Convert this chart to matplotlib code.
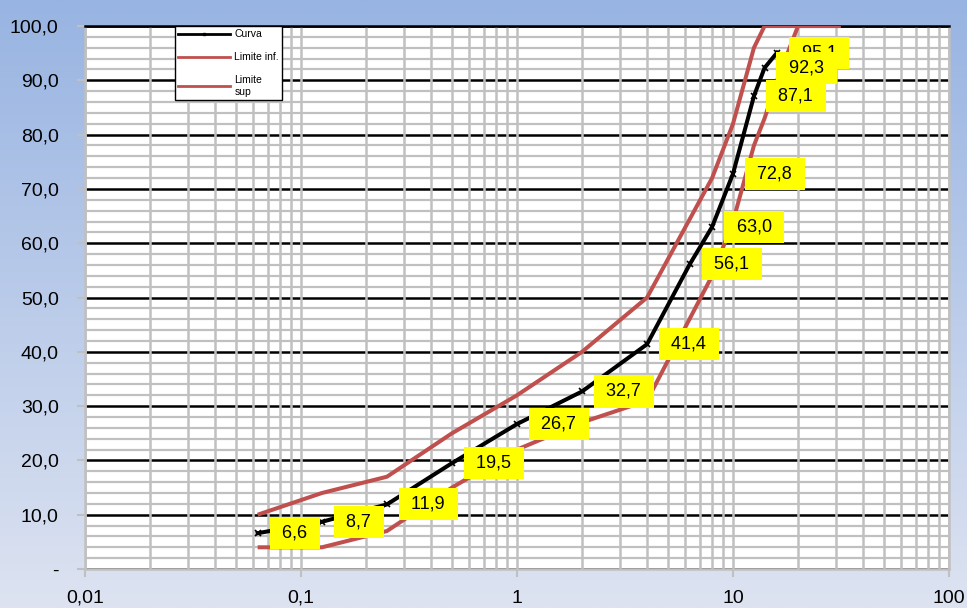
import numpy as np
import matplotlib
matplotlib.use("Agg")
import matplotlib.pyplot as plt
from matplotlib.lines import Line2D
from matplotlib.colors import LinearSegmentedColormap

plt.rcParams["font.family"] = ["Liberation Sans", "DejaVu Sans"]

# sieve sizes [mm] and % passing
curve_x = [0.063, 0.125, 0.25, 0.5, 1, 2, 4, 6.3, 8, 10, 12.5, 14, 16]
curve_y = [6.6, 8.7, 11.9, 19.5, 26.7, 32.7, 41.4, 56.1, 63.0, 72.8, 87.1, 92.3, 95.1]

upper_x = [0.063, 0.125, 0.25, 0.5, 1, 2, 4, 8, 10, 12.5, 14, 16, 20, 31.5]
upper_y = [10, 14, 17, 25, 32, 40, 50, 72, 82, 96, 100, 100, 100, 100]

lower_x = [0.063, 0.125, 0.25, 0.5, 1, 2, 4, 8, 10, 12.5, 14, 16, 20, 31.5]
lower_y = [4, 4, 7, 15, 22, 27, 31, 54, 64, 78, 83, 90, 100, 100]

x_ticks = [0.01, 0.1, 1, 10, 100]
x_labels = ["0,01", "0,1", "1", "10", "100"]
y_ticks = list(range(0, 101, 10))
y_labels = ["-"] + [f"{v:.1f}".replace(".", ",") for v in y_ticks[1:]]

RED = "#C0504D"
GRID = "#C0C0C0"

fig = plt.figure(figsize=(9.67, 6.08), dpi=100)

# background gradient
bg = fig.add_axes([0, 0, 1, 1], zorder=-10)
cmap = LinearSegmentedColormap.from_list("bg", ["#98B4E2", "#DDE3F1"])
bg.imshow(np.linspace(0, 1, 256).reshape(-1, 1), aspect="auto", cmap=cmap,
          extent=[0, 1, 0, 1])
bg.axis("off")

ax = fig.add_axes([0.0879, 0.0641, 0.8935, 0.8931])
ax.set_facecolor("white")
ax.set_xscale("log")
ax.set_xlim(0.01, 100)
ax.set_ylim(0, 100)

ax.set_axisbelow(True)
ax.set_yticks(y_ticks)
ax.set_yticklabels(y_labels)
ax.set_yticks(np.arange(0, 101, 2), minor=True)
ax.set_xticks(x_ticks)
ax.set_xticklabels(x_labels)
ax.grid(True, axis="x", which="both", color=GRID, lw=1.8)
ax.grid(True, axis="y", which="minor", color=GRID, lw=1.6)
ax.grid(True, axis="y", which="major", color="black", lw=1.8)
ax.xaxis.set_zorder(0.7)
ax.yaxis.set_zorder(0.6)

ax.tick_params(which="major", length=6, width=1.5, color=GRID, labelsize=14,
               direction="out")
ax.tick_params(axis="y", pad=13)
ax.tick_params(axis="x", pad=9)
ax.tick_params(which="minor", length=0)
for side in ["left", "bottom", "right"]:
    ax.spines[side].set_color(GRID)
    ax.spines[side].set_linewidth(1.8)
ax.spines["top"].set_color("black")
ax.spines["top"].set_linewidth(1.8)

ax.plot(upper_x, upper_y, color=RED, lw=2.9, zorder=3, solid_capstyle="butt")
ax.plot(lower_x, lower_y, color=RED, lw=2.9, zorder=3, solid_capstyle="butt")
ax.plot(curve_x, curve_y, color="black", lw=2.9, marker="x", ms=4.5, mew=1.2,
        zorder=4)

# data labels (yellow boxes); 95,1 sits below 92,3
for xv, yv in zip(curve_x, curve_y):
    z = 5 if yv > 95 else 6
    ax.annotate(" " + f"{yv:.1f}".replace(".", ",") + " ", xy=(xv, yv),
                xytext=(14, 0), textcoords="offset points",
                ha="left", va="center", fontsize=13, zorder=z,
                bbox=dict(boxstyle="square,pad=0.42", fc="yellow", ec="none"))

handles = [
    Line2D([0, 0.5, 1], [0, 0, 0], color="black", lw=2, marker="s", ms=2,
           markevery=[1]),
    Line2D([0, 1], [0, 0], color=RED, lw=2),
    Line2D([0, 1], [0, 0], color=RED, lw=2),
]
leg = ax.legend(handles, ["Curva", "Limite inf.", "Limite\nsup"],
                loc="upper left", bbox_to_anchor=(0.104, 1.0), borderaxespad=0,
                fontsize=7.5, handlelength=5.0, labelspacing=1.25,
                handletextpad=0.4, borderpad=0.3, fancybox=False,
                framealpha=1, edgecolor="black")
leg.get_frame().set_linewidth(1.0)
leg.set_zorder(10)

fig.savefig("out.png", dpi=100)
